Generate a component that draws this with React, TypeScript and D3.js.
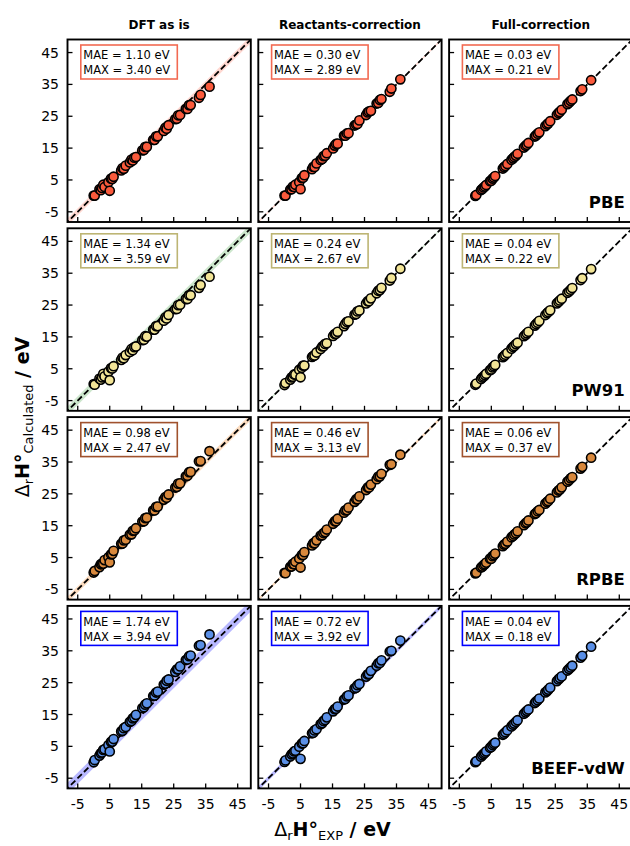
import React from "react";
import * as d3 from "d3";

// ---------- data ----------
const EXP = [0.0, 0.3, 1.8, 2.2, 2.6, 3.0, 3.4, 4.6, 5.0, 5.4, 5.8, 6.2, 8.6, 9.0, 9.4, 10.0, 11.3, 11.8, 12.2, 12.7, 13.2, 15.2, 15.7, 16.1, 16.6, 18.6, 19.0, 19.5, 20.0, 21.9, 22.4, 22.8, 23.4, 25.5, 26.0, 26.4, 27.0, 28.8, 29.3, 29.8, 30.3, 32.9, 33.4, 36.2];

// calculated - experimental (eV), per functional and correction level
const PBE_ASIS = [0.1, -0.2, 0.3, -0.4, -0.1, 0.5, -0.6, -0.3, -3.4, 0.0, -0.5, -0.2, -0.6, -0.3, -0.9, -0.5, -0.8, -0.4, -1.1, -0.7, -1.0, -0.9, -1.3, -0.7, -1.2, -1.0, -1.4, -0.8, -1.3, -1.5, -1.0, -1.7, -1.2, -1.4, -1.8, -1.1, -1.6, -1.5, -2.0, -1.3, -1.8, -2.1, -1.7, -1.9];
const PBE_RC = [0.1, -0.2, 0.2, -0.1, 0.3, -0.2, 0.1, -0.3, -2.89, 0.2, -0.1, 0.3, -0.2, 0.1, -0.3, 0.2, 0.0, -0.2, 0.3, -0.1, 0.2, -0.3, 0.1, 0.2, -0.2, 0.3, -0.1, 0.1, -0.3, 0.2, 0.0, -0.2, 0.3, -0.1, 0.2, 0.1, -0.3, 0.2, -0.1, 0.3, 0.1, -0.2, 0.3, 0.4];
const PBE_FC = [0.02, -0.03, 0.05, -0.02, 0.04, -0.05, 0.01, 0.03, -0.21, 0.02, -0.04, 0.03, -0.02, 0.05, -0.03, 0.01, 0.04, -0.02, 0.03, -0.05, 0.02, -0.01, 0.04, -0.03, 0.02, 0.05, -0.02, 0.03, -0.04, 0.01, 0.03, -0.02, 0.05, -0.03, 0.02, -0.04, 0.03, 0.01, -0.02, 0.04, -0.03, 0.02, 0.05, 0.12];

const PW91_ASIS = [0.2, -0.3, 0.1, -0.6, -0.3, 0.4, -0.8, -0.5, -3.59, -0.2, -0.7, -0.4, -0.8, -0.5, -1.1, -0.7, -1.0, -0.6, -1.4, -0.9, -1.2, -1.2, -1.6, -0.9, -1.5, -1.3, -1.7, -1.1, -1.6, -1.8, -1.3, -2.0, -1.5, -1.8, -2.2, -1.4, -1.9, -1.9, -2.4, -1.7, -2.2, -2.5, -2.1, -2.3];
const PW91_RC = [-0.1, 0.2, -0.2, 0.1, -0.1, 0.2, -0.2, 0.1, -2.67, -0.1, 0.2, -0.2, 0.1, 0.0, -0.2, 0.1, -0.1, 0.2, -0.1, 0.1, -0.2, 0.1, 0.2, -0.1, 0.0, -0.2, 0.1, 0.2, -0.1, 0.1, -0.2, 0.2, -0.1, 0.0, 0.2, -0.2, 0.1, -0.1, 0.2, -0.1, 0.1, -0.2, 0.1, 0.2];
const PW91_FC = [-0.03, 0.04, -0.02, 0.05, -0.04, 0.02, 0.03, -0.05, -0.22, 0.04, -0.02, 0.01, 0.05, -0.03, 0.02, -0.04, 0.03, 0.05, -0.02, 0.04, -0.03, 0.02, -0.05, 0.03, 0.01, -0.04, 0.05, -0.02, 0.03, -0.03, 0.04, 0.02, -0.05, 0.03, -0.02, 0.04, -0.01, 0.05, -0.03, 0.02, 0.04, -0.04, 0.03, 0.10];

const RPBE_ASIS = [0.3, 0.5, 0.2, 0.7, 0.4, 0.1, 0.8, 0.5, -1.5, 0.6, 0.3, 0.9, 0.7, 0.4, 1.0, 0.6, 0.9, 0.5, 1.2, 0.8, 1.0, 1.1, 0.7, 1.3, 0.9, 1.2, 0.8, 1.4, 1.0, 1.3, 1.6, 1.0, 1.4, 1.5, 1.2, 1.8, 1.3, 1.7, 1.4, 2.0, 1.6, 2.3, 1.9, 2.2];
const RPBE_RC = [0.2, -0.2, 0.3, 0.0, 0.4, -0.1, 0.3, 0.1, -3.13, 0.4, 0.0, 0.5, 0.2, 0.5, 0.1, 0.4, 0.6, 0.2, 0.5, 0.3, 0.6, 0.4, 0.7, 0.3, 0.6, 0.5, 0.8, 0.4, 0.7, 0.6, 0.9, 0.5, 0.8, 0.7, 1.0, 0.6, 0.9, 0.8, 1.1, 0.7, 1.0, 1.2, 0.9, 1.1];
const RPBE_FC = [0.04, -0.06, 0.08, -0.03, 0.06, -0.08, 0.02, 0.05, -0.37, 0.03, -0.07, 0.05, -0.04, 0.08, -0.05, 0.02, 0.07, -0.03, 0.05, -0.08, 0.04, -0.02, 0.07, -0.05, 0.03, 0.08, -0.04, 0.05, -0.06, 0.02, 0.05, -0.03, 0.08, -0.05, 0.04, -0.07, 0.05, 0.02, -0.04, 0.07, -0.05, 0.04, 0.08, 0.15];

const BEEF_ASIS = [0.0, 0.4, 0.3, 0.6, 0.5, 0.9, 0.7, 0.8, -1.6, 1.0, 0.7, 1.1, 1.1, 0.9, 1.3, 1.1, 1.4, 1.2, 1.6, 1.4, 1.7, 1.8, 1.6, 2.0, 1.9, 2.2, 2.0, 2.4, 2.2, 2.5, 2.3, 2.8, 2.6, 2.9, 3.2, 2.8, 3.1, 3.3, 3.0, 3.5, 3.2, 3.7, 3.4, 3.94];
const BEEF_RC = [0.1, 0.3, 0.0, 0.3, 0.2, 0.4, 0.2, 0.3, -3.92, 0.5, 0.2, 0.5, 0.5, 0.3, 0.6, 0.4, 0.7, 0.5, 0.8, 0.6, 0.9, 0.8, 1.0, 0.7, 0.9, 1.1, 0.9, 1.2, 1.0, 1.3, 1.0, 1.4, 1.2, 1.4, 1.6, 1.3, 1.7, 1.5, 1.8, 1.4, 1.7, 1.9, 1.6, 2.0];
const BEEF_FC = [0.02, 0.03, -0.04, 0.01, 0.05, -0.02, 0.04, -0.03, -0.18, 0.03, 0.02, -0.05, 0.04, -0.01, 0.03, 0.05, -0.03, 0.02, -0.04, 0.03, 0.01, 0.04, -0.02, 0.05, -0.03, 0.02, 0.04, -0.04, 0.01, 0.03, -0.05, 0.02, 0.04, -0.02, 0.03, 0.05, -0.03, 0.02, 0.04, -0.01, 0.03, -0.04, 0.02, 0.09];

const FUNCTIONALS = ["PBE", "PW91", "RPBE", "BEEF-vdW"];
const METHODS = ["DFT as is", "Reactants-correction", "Full-correction"];
const DEVIATIONS = [
  [PBE_ASIS, PBE_RC, PBE_FC],
  [PW91_ASIS, PW91_RC, PW91_FC],
  [RPBE_ASIS, RPBE_RC, RPBE_FC],
  [BEEF_ASIS, BEEF_RC, BEEF_FC],
];
const MAE_VALUES = [
  [1.10, 0.30, 0.03],
  [1.34, 0.24, 0.04],
  [0.98, 0.46, 0.06],
  [1.74, 0.72, 0.04],
];
const MAX_VALUES = [
  [3.40, 2.89, 0.21],
  [3.59, 2.67, 0.22],
  [2.47, 3.13, 0.37],
  [3.94, 3.92, 0.18],
];
const TICKS = [-5, 5, 15, 25, 35, 45];

// ---------- styles ----------
const MARKER_COLORS = ["#fa5a3c", "#f2e496", "#d8883c", "#5a8fe6"];
const BOX_COLORS = ["#f26a52", "#bdb574", "#a0522d", "#0000ff"];
const BAND_COLORS = ["#ff6347", "#7fc07f", "#f4a460", "#4d4dff"];
const BAND_OPACITY = [0.25, 0.4, 0.4, 0.4];

const FONT = "DejaVu Sans";
const COL_X = [67.5, 258.3, 449.1];
const ROW_Y = [39.5, 228.3, 417.1, 605.9];
const PW = 183.3;
const PH = 182.5;
const DOMAIN: [number, number] = [-8.2, 49.1];

function Panel({ r, c }: { r: number; c: number }) {
  const x0 = COL_X[c];
  const y0 = ROW_Y[r];
  const x = d3.scaleLinear().domain(DOMAIN).range([x0, x0 + PW]);
  const y = d3.scaleLinear().domain(DOMAIN).range([y0 + PH, y0]);
  const mae = MAE_VALUES[r][c];
  const dev = DEVIATIONS[r][c];
  const clipId = `clip-${r}-${c}`;
  const lo = DOMAIN[0] - 3;
  const hi = DOMAIN[1] + 3;
  const band = d3.line<[number, number]>().x((d) => x(d[0])).y((d) => y(d[1]))([
    [lo, lo - mae],
    [hi, hi - mae],
    [hi, hi + mae],
    [lo, lo + mae],
  ]) + "Z";
  const pts = EXP.map((e, i) => [e, e + dev[i]] as [number, number]);
  const tickLen = 5;
  return (
    <g>
      <defs>
        <clipPath id={clipId}>
          <rect x={x0} y={y0} width={PW} height={PH} />
        </clipPath>
      </defs>
      <rect x={x0} y={y0} width={PW} height={PH} fill="#fff" />
      <g clipPath={`url(#${clipId})`}>
        <path d={band} fill={BAND_COLORS[r]} fillOpacity={BAND_OPACITY[r]} stroke="none" />
        <line x1={x(lo)} y1={y(lo)} x2={x(hi)} y2={y(hi)} stroke="#000" strokeWidth={1.8} strokeDasharray="6.2 3" />
        {pts.map((p, i) => (
          <circle key={i} cx={x(p[0])} cy={y(p[1])} r={4.6} fill={MARKER_COLORS[r]} stroke="#000" strokeWidth={1.6} />
        ))}
      </g>
      {/* ticks */}
      {TICKS.map((t) => (
        <line key={"yt" + t} x1={x0} x2={x0 + tickLen} y1={y(t)} y2={y(t)} stroke="#000" strokeWidth={1.3} />
      ))}
      {TICKS.map((t) => (
        <line key={"xt" + t} x1={x(t)} x2={x(t)} y1={y0 + PH} y2={y0 + PH - tickLen} stroke="#000" strokeWidth={1.3} />
      ))}
      {c === 0 &&
        TICKS.map((t) => (
          <text key={"yl" + t} x={x0 - 8.5} y={y(t)} dy="0.36em" textAnchor="end" fontSize={14} fontFamily={FONT}>
            {String(t)}
          </text>
        ))}
      {r === 3 &&
        TICKS.map((t) => (
          <text key={"xl" + t} x={x(t)} y={y0 + PH + 21} textAnchor="middle" fontSize={14} fontFamily={FONT}>
            {String(t)}
          </text>
        ))}
      {/* stats box */}
      <rect x={x0 + 13.3} y={y0 + 5.5} width={96.5} height={34} fill="#fff" stroke={BOX_COLORS[r]} strokeWidth={1.6} />
      <text x={x0 + 15.8} y={y0 + 19.8} fontSize={11.5} fontFamily={FONT}>
        {`MAE = ${mae.toFixed(2)} eV`}
      </text>
      <text x={x0 + 15.8} y={y0 + 34.8} fontSize={11.5} fontFamily={FONT}>
        {`MAX = ${MAX_VALUES[r][c].toFixed(2)} eV`}
      </text>
      {c === 2 && (
        <text x={x0 + PW - 7.6} y={y0 + PH - 14.5} textAnchor="end" fontSize={16.5} fontWeight="bold" fontFamily={FONT}>
          {FUNCTIONALS[r]}
        </text>
      )}
      <rect x={x0} y={y0} width={PW} height={PH} fill="none" stroke="#000" strokeWidth={1.9} />
    </g>
  );
}

export default function App() {
  return (
    <svg
      width={630}
      height={846}
      viewBox="0 0 630 846"
      style={{ position: "absolute", left: 0, top: 0, background: "#fff", overflow: "hidden" }}
    >
      <rect x={0} y={0} width={630} height={846} fill="#fff" />
      {METHODS.map((m, c) => (
        <text key={m} x={COL_X[c] + PW / 2} y={29.3} textAnchor="middle" fontSize={12} fontWeight="bold" fontFamily={FONT}>
          {m}
        </text>
      ))}
      {FUNCTIONALS.map((f, r) =>
        METHODS.map((m, c) => <Panel key={f + m} r={r} c={c} />)
      )}
      {/* y label */}
      <text transform="translate(29,417) rotate(-90)" textAnchor="middle" fontSize={19} fontFamily={FONT}>
        <tspan>Δ</tspan>
        <tspan dy={4} fontSize={13}>r</tspan>
        <tspan dy={-4} fontWeight="bold">H°</tspan>
        <tspan dy={4} fontSize={13}>Calculated</tspan>
        <tspan dy={-4} fontWeight="bold">{" / eV"}</tspan>
      </text>
      {/* x label */}
      <text x={332.5} y={836} textAnchor="middle" fontSize={19} fontFamily={FONT}>
        <tspan>Δ</tspan>
        <tspan dy={4} fontSize={13}>r</tspan>
        <tspan dy={-4} fontWeight="bold">H°</tspan>
        <tspan dy={4} fontSize={13}>EXP</tspan>
        <tspan dy={-4} fontWeight="bold">{" / eV"}</tspan>
      </text>
    </svg>
  );
}
